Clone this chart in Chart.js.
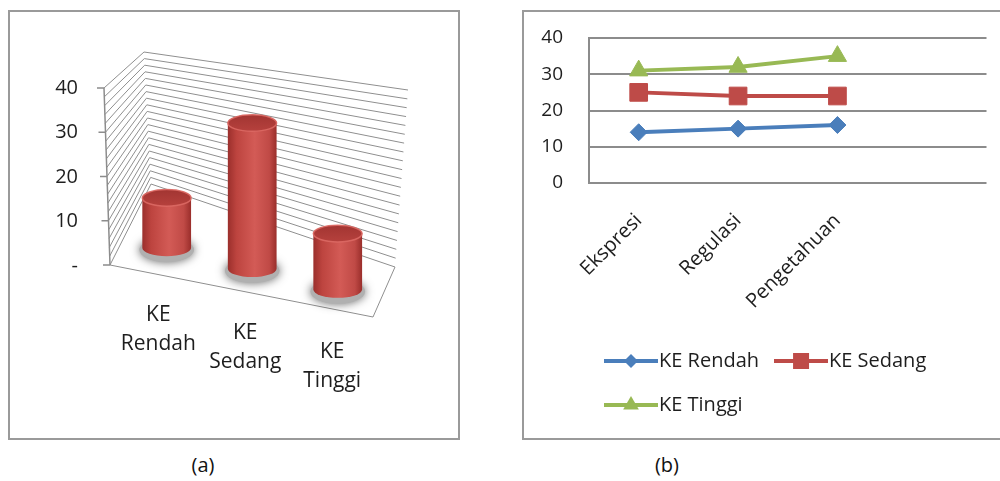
<!DOCTYPE html>
<html>
<head>
<meta charset="utf-8">
<script src="https://cdn.jsdelivr.net/npm/chart.js@4.4.0/dist/chart.umd.min.js"></script>
<style>
  html, body { margin: 0; padding: 0; background: #fff; }
  body { width: 1000px; height: 481px; position: relative; overflow: hidden; font-family: "Open Sans", sans-serif; }
  .frame { position: absolute; border: 2px solid #9a9a9a; box-sizing: border-box; }
  #frameA { left: 8px; top: 10px; width: 452px; height: 430px; }
  #frameB { left: 522px; top: 10px; width: 500px; height: 430px; }
  canvas { position: absolute; }
  #cylinders { left: 0; top: 0; }
  #lines { left: 523px; top: 10px; }
  .caption { position: absolute; top: 451px; width: 60px; text-align: center; font-size: 20px; color: #111; }
</style>
</head>
<body>
<div class="frame" id="frameA"></div>
<div class="frame" id="frameB"></div>
<canvas id="cylinders" width="465" height="445"></canvas>
<canvas id="lines" width="477" height="428"></canvas>
<div class="caption" style="left:173px">(a)</div>
<div class="caption" style="left:637px">(b)</div>
<script>
// (a) jumlah siswa per kategori KE
const categoriesA = [['KE', 'Rendah'], ['KE', 'Sedang'], ['KE', 'Tinggi']];
const countsA = [12, 33, 12];
const ticksA = [0, 10, 20, 30, 40];

// (b) skor per aspek
const categoriesB = ['Ekspresi', 'Regulasi', 'Pengetahuan', ''];
const keRendah = [14, 15, 16];
const keSedang = [25, 24, 24];
const keTinggi = [31, 32, 35];
const ticksB = [0, 10, 20, 30, 40];

const FONT = 'Open Sans';
const TEXT = '#1e1e1e';
const AXIS = '#8c8c8c';
const BLUE = '#4a7ebb';
const RED = '#be4b48';
const GREEN = '#98b954';

const lerp = (p, q, k) => [p[0] + (q[0] - p[0]) * k, p[1] + (q[1] - p[1]) * k];

// fake 3d box: the y scale gives the heights, the corners give the perspective
const box3d = {
  id: 'box3d',
  beforeDatasetsDraw(chart, args, opts) {
    const { ctx, chartArea: a, scales: { x, y } } = chart;
    const c = Object.assign({ flt: [a.left, a.top] }, opts.corners);
    const P = (u, t, w) => lerp(
      lerp(lerp(c.flb, c.frb, u), lerp(c.flt, c.frt, u), t),
      lerp(lerp(c.blb, c.brb, u), lerp(c.blt, c.brt, u), t), w);
    const tOf = v => (a.bottom - y.getPixelForValue(v)) / (a.bottom - a.top);
    const line = (p, q) => { ctx.moveTo(p[0], p[1]); ctx.lineTo(q[0], q[1]); };

    ctx.save();
    ctx.strokeStyle = '#8f8f8f';
    ctx.lineWidth = 1;
    ctx.beginPath();
    for (let v = y.min; v <= y.max; v += opts.minorStep) {
      const t = tOf(v);
      line(P(0, t, 0), P(0, t, 1));
      line(P(0, t, 1), P(1, t, 1));
    }
    // floor
    line(P(0, 0, 0), P(1, 0, 0));
    line(P(1, 0, 0), P(1, 0, 1));
    ctx.stroke();

    // value axis with its tick marks
    ctx.strokeStyle = AXIS;
    ctx.lineWidth = 1.5;
    ctx.beginPath();
    line(P(0, 0, 0), P(0, 1, 0));
    y.ticks.forEach(tk => {
      const p = P(0, tOf(tk.value), 0);
      line([p[0] - 7, p[1]], p);
    });
    ctx.stroke();

    const meta = chart.getDatasetMeta(0);
    meta.data.forEach(bar => {
      const u = (bar.x - a.left) / (a.right - a.left);
      const t = (a.bottom - bar.y) / (a.bottom - a.top);
      const bot = P(u, 0, opts.depth);
      const top = [bot[0], P(u, t, opts.depth)[1]];
      const rx = (P(u + opts.radius, 0, opts.depth)[0] - P(u - opts.radius, 0, opts.depth)[0]) / 2;
      drawCylinder(ctx, bot, top, rx, rx * 0.34);
    });

    // category labels along the front edge
    ctx.fillStyle = TEXT;
    ctx.font = '21px "' + FONT + '"';
    ctx.textAlign = 'center';
    ctx.textBaseline = 'middle';
    chart.data.labels.forEach((lab, i) => {
      const u = (x.getPixelForValue(i) - a.left) / (a.right - a.left);
      const p = P(u, 0, 0.12);
      lab.forEach((ln, k) => ctx.fillText(ln, p[0], p[1] + 50 + k * 29));
    });
    ctx.restore();
    return false;
  }
};

function drawCylinder(ctx, bot, top, rx, ry) {
  ctx.save();
  ctx.shadowColor = 'rgba(0,0,0,0.6)';
  ctx.shadowBlur = 10;
  ctx.fillStyle = '#b0b0b0';
  ctx.beginPath();
  ctx.ellipse(bot[0], bot[1] + 2, rx + 3, ry + 4, 0, 0, Math.PI * 2);
  ctx.fill();
  ctx.restore();

  const g = ctx.createLinearGradient(bot[0] - rx, 0, bot[0] + rx, 0);
  g.addColorStop(0, '#9b2f2c');
  g.addColorStop(0.18, '#bd443f');
  g.addColorStop(0.55, '#d35b56');
  g.addColorStop(0.85, '#c04a46');
  g.addColorStop(1, '#9a2e2b');
  ctx.fillStyle = g;
  ctx.beginPath();
  ctx.moveTo(top[0] - rx, top[1]);
  ctx.lineTo(bot[0] - rx, bot[1]);
  ctx.ellipse(bot[0], bot[1], rx, ry, 0, Math.PI, 0, true);
  ctx.lineTo(top[0] + rx, top[1]);
  ctx.ellipse(top[0], top[1], rx, ry, 0, 0, Math.PI, true);
  ctx.closePath();
  ctx.fill();

  const tg = ctx.createLinearGradient(0, top[1] - ry, 0, top[1] + ry);
  tg.addColorStop(0, '#a23532');
  tg.addColorStop(1, '#b6413d');
  ctx.fillStyle = tg;
  ctx.beginPath();
  ctx.ellipse(top[0], top[1], rx, ry, 0, 0, Math.PI * 2);
  ctx.fill();
  ctx.strokeStyle = 'rgba(220,105,100,0.9)';
  ctx.lineWidth = 1.5;
  ctx.stroke();
}

new Chart(document.getElementById('cylinders'), {
  type: 'bar',
  data: {
    labels: categoriesA,
    datasets: [{ data: countsA, backgroundColor: '#c0504d' }]
  },
  options: {
    responsive: false,
    animation: false,
    layout: { padding: { top: 88, bottom: 179, left: 0, right: 92 } },
    scales: {
      x: { display: false },
      y: {
        min: 0,
        max: 40,
        afterBuildTicks: s => { s.ticks = ticksA.map(v => ({ value: v })); },
        afterFit: s => { s.width = 104; },
        ticks: {
          font: { family: FONT, size: 20 },
          color: TEXT,
          padding: 18,
          callback: v => (v === 0 ? '-' : v)
        },
        grid: { display: false },
        border: { display: false }
      }
    },
    plugins: {
      legend: { display: false },
      tooltip: { enabled: false },
      box3d: {
        corners: {
          flb: [110, 265],
          frb: [373, 317], frt: [385, 118],
          blb: [151, 184], blt: [144, 52],
          brb: [395, 267], brt: [408, 90]
        },
        depth: 0.34,
        radius: 0.095,
        minorStep: 2
      }
    }
  },
  plugins: [box3d]
});

// legend swatch: line with the marker on it
function legendIcon(color, style, r) {
  const c = document.createElement('canvas');
  c.width = 54;
  c.height = 26;
  const g = c.getContext('2d');
  g.strokeStyle = color;
  g.fillStyle = color;
  g.lineWidth = 4;
  g.beginPath();
  g.moveTo(0, 13);
  g.lineTo(54, 13);
  g.stroke();
  g.beginPath();
  if (style === 'rectRot') {
    g.moveTo(27 - r, 13); g.lineTo(27, 13 - r); g.lineTo(27 + r, 13); g.lineTo(27, 13 + r);
  } else if (style === 'rect') {
    g.rect(27 - r, 13 - r, 2 * r, 2 * r);
  } else {
    g.moveTo(27, 13 - r); g.lineTo(27 + r * 0.87, 13 + r * 0.5); g.lineTo(27 - r * 0.87, 13 + r * 0.5);
  }
  g.closePath();
  g.fill();
  return c;
}

const seriesB = [
  { label: 'KE Rendah', data: keRendah, color: BLUE, style: 'rectRot', radius: 8.5, icon: 7 },
  { label: 'KE Sedang', data: keSedang, color: RED, style: 'rect', radius: 12.5, icon: 8 },
  { label: 'KE Tinggi', data: keTinggi, color: GREEN, style: 'triangle', radius: 10.5, icon: 9 }
];

new Chart(document.getElementById('lines'), {
  type: 'line',
  data: {
    labels: categoriesB,
    datasets: seriesB.map(s => ({
      label: s.label,
      data: s.data,
      borderColor: s.color,
      backgroundColor: s.color,
      borderWidth: 4,
      tension: 0,
      pointStyle: s.style,
      pointRadius: s.radius,
      pointBackgroundColor: s.color,
      pointBorderColor: s.color,
      pointBorderWidth: 1
    }))
  },
  options: {
    responsive: false,
    animation: false,
    layout: { padding: { top: 28, bottom: 13, left: 0, right: 7 } },
    scales: {
      x: {
        offset: true,
        afterFit: s => { s.height = 144; s.paddingLeft = 0; s.paddingRight = 0; },
        ticks: { font: { family: FONT, size: 20 }, color: TEXT, minRotation: 45, maxRotation: 45, padding: 18 },
        grid: { display: false },
        border: { display: false }
      },
      y: {
        min: 0,
        max: 40,
        afterBuildTicks: s => { s.ticks = ticksB.map(v => ({ value: v })); },
        afterFit: s => { s.width = 66; s.paddingTop = 0; s.paddingBottom = 0; },
        ticks: { font: { family: FONT, size: 19 }, color: TEXT, padding: 26 },
        grid: { color: AXIS, lineWidth: 2, drawTicks: false },
        border: { display: true, color: AXIS, width: 2 }
      }
    },
    plugins: {
      tooltip: { enabled: false },
      legend: {
        position: 'bottom',
        align: 'start',
        fullSize: false,
        labels: {
          usePointStyle: true,
          pointStyleWidth: 36,
          padding: 24,
          font: { family: FONT, size: 20 },
          color: TEXT,
          generateLabels: chart => chart.data.datasets.map((ds, i) => ({
            text: ds.label,
            pointStyle: legendIcon(seriesB[i].color, seriesB[i].style, seriesB[i].icon),
            fillStyle: 'rgba(0,0,0,0)',
            strokeStyle: 'rgba(0,0,0,0)',
            lineWidth: 0,
            fontColor: TEXT,
            hidden: false,
            datasetIndex: i
          }))
        }
      }
    }
  }
});
</script>
</body>
</html>
